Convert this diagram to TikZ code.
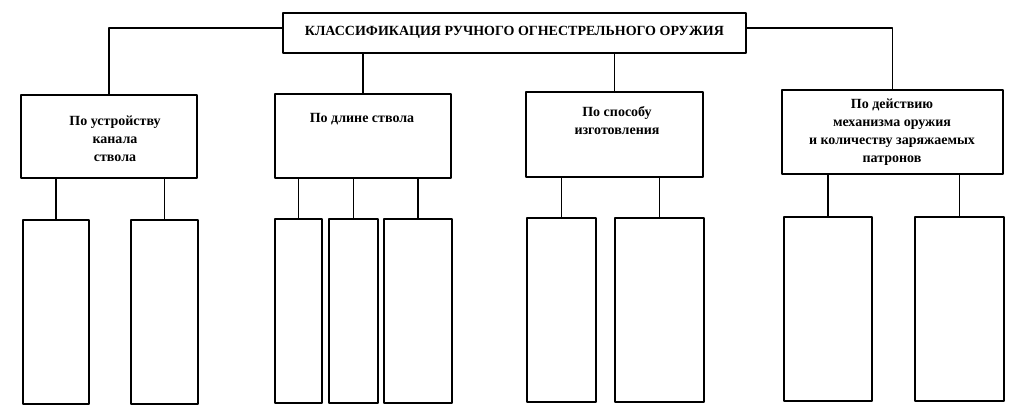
\documentclass[tikz,border=0pt]{standalone}
\usepackage{fontspec}
\setmainfont{Liberation Serif}

\begin{document}
\begin{tikzpicture}[
    x = 1pt, y = -1pt,
    line join=round,
    box/.style = {draw, line width=1.7pt, inner sep=0pt, anchor=north west},
    txt/.style = {font=\bfseries\fontsize{14}{18}\selectfont, align=center, inner sep=0pt},
    link/.style = {line width=1.7pt}
]

\useasboundingbox (0,0) rectangle (1016,412);

% title
\node[box, minimum width=463, minimum height=40, txt] (title) at (282,12)
    {КЛАССИФИКАЦИЯ РУЧНОГО ОГНЕСТРЕЛЬНОГО ОРУЖИЯ};

% categories
\node[box, minimum width=176, minimum height=83] (c1) at (20,94) {};
\node[box, minimum width=176, minimum height=84] (c2) at (274,93) {};
\node[box, minimum width=177, minimum height=85] (c3) at (525,91) {};
\node[box, minimum width=221, minimum height=84] (c4) at (781,89) {};

\node[txt] (t1) at (115,139) {По устройству\\канала\\ствола};
\node[txt] (t2) at (362,119) {По длине ствола};
\node[txt] (t3) at (617,121) {По способу\\изготовления};
\node[txt] (t4) at (892,132) {По действию\\механизма оружия\\и количеству заряжаемых\\патронов};

% empty leaves
\node[box, minimum width=66, minimum height=184] (l11) at (22,219) {};
\node[box, minimum width=67, minimum height=184] (l12) at (130,219) {};
\node[box, minimum width=47, minimum height=184] (l21) at (274,218) {};
\node[box, minimum width=49, minimum height=184] (l22) at (328,218) {};
\node[box, minimum width=68, minimum height=184] (l23) at (383,218) {};
\node[box, minimum width=69, minimum height=184] (l31) at (526,217) {};
\node[box, minimum width=89, minimum height=184] (l32) at (614,217) {};
\node[box, minimum width=88, minimum height=184] (l41) at (783,216) {};
\node[box, minimum width=89, minimum height=184] (l42) at (914,216) {};

% links
\draw[link] ([yshift=5pt]title.west) -| (c1.north);
\draw[link] ([yshift=5pt]title.east) -| (c4.north);
\draw[link] (title.south -| c2.north) -- (c2.north);
\draw[link] (title.south -| c3.north) -- (c3.north);

\foreach \c/\l in {c1/l11, c1/l12, c2/l21, c2/l22, c2/l23, c3/l31, c3/l32, c4/l41, c4/l42}
    \draw[link] (\l.north |- \c.south) -- (\l.north);

\end{tikzpicture}
\end{document}
